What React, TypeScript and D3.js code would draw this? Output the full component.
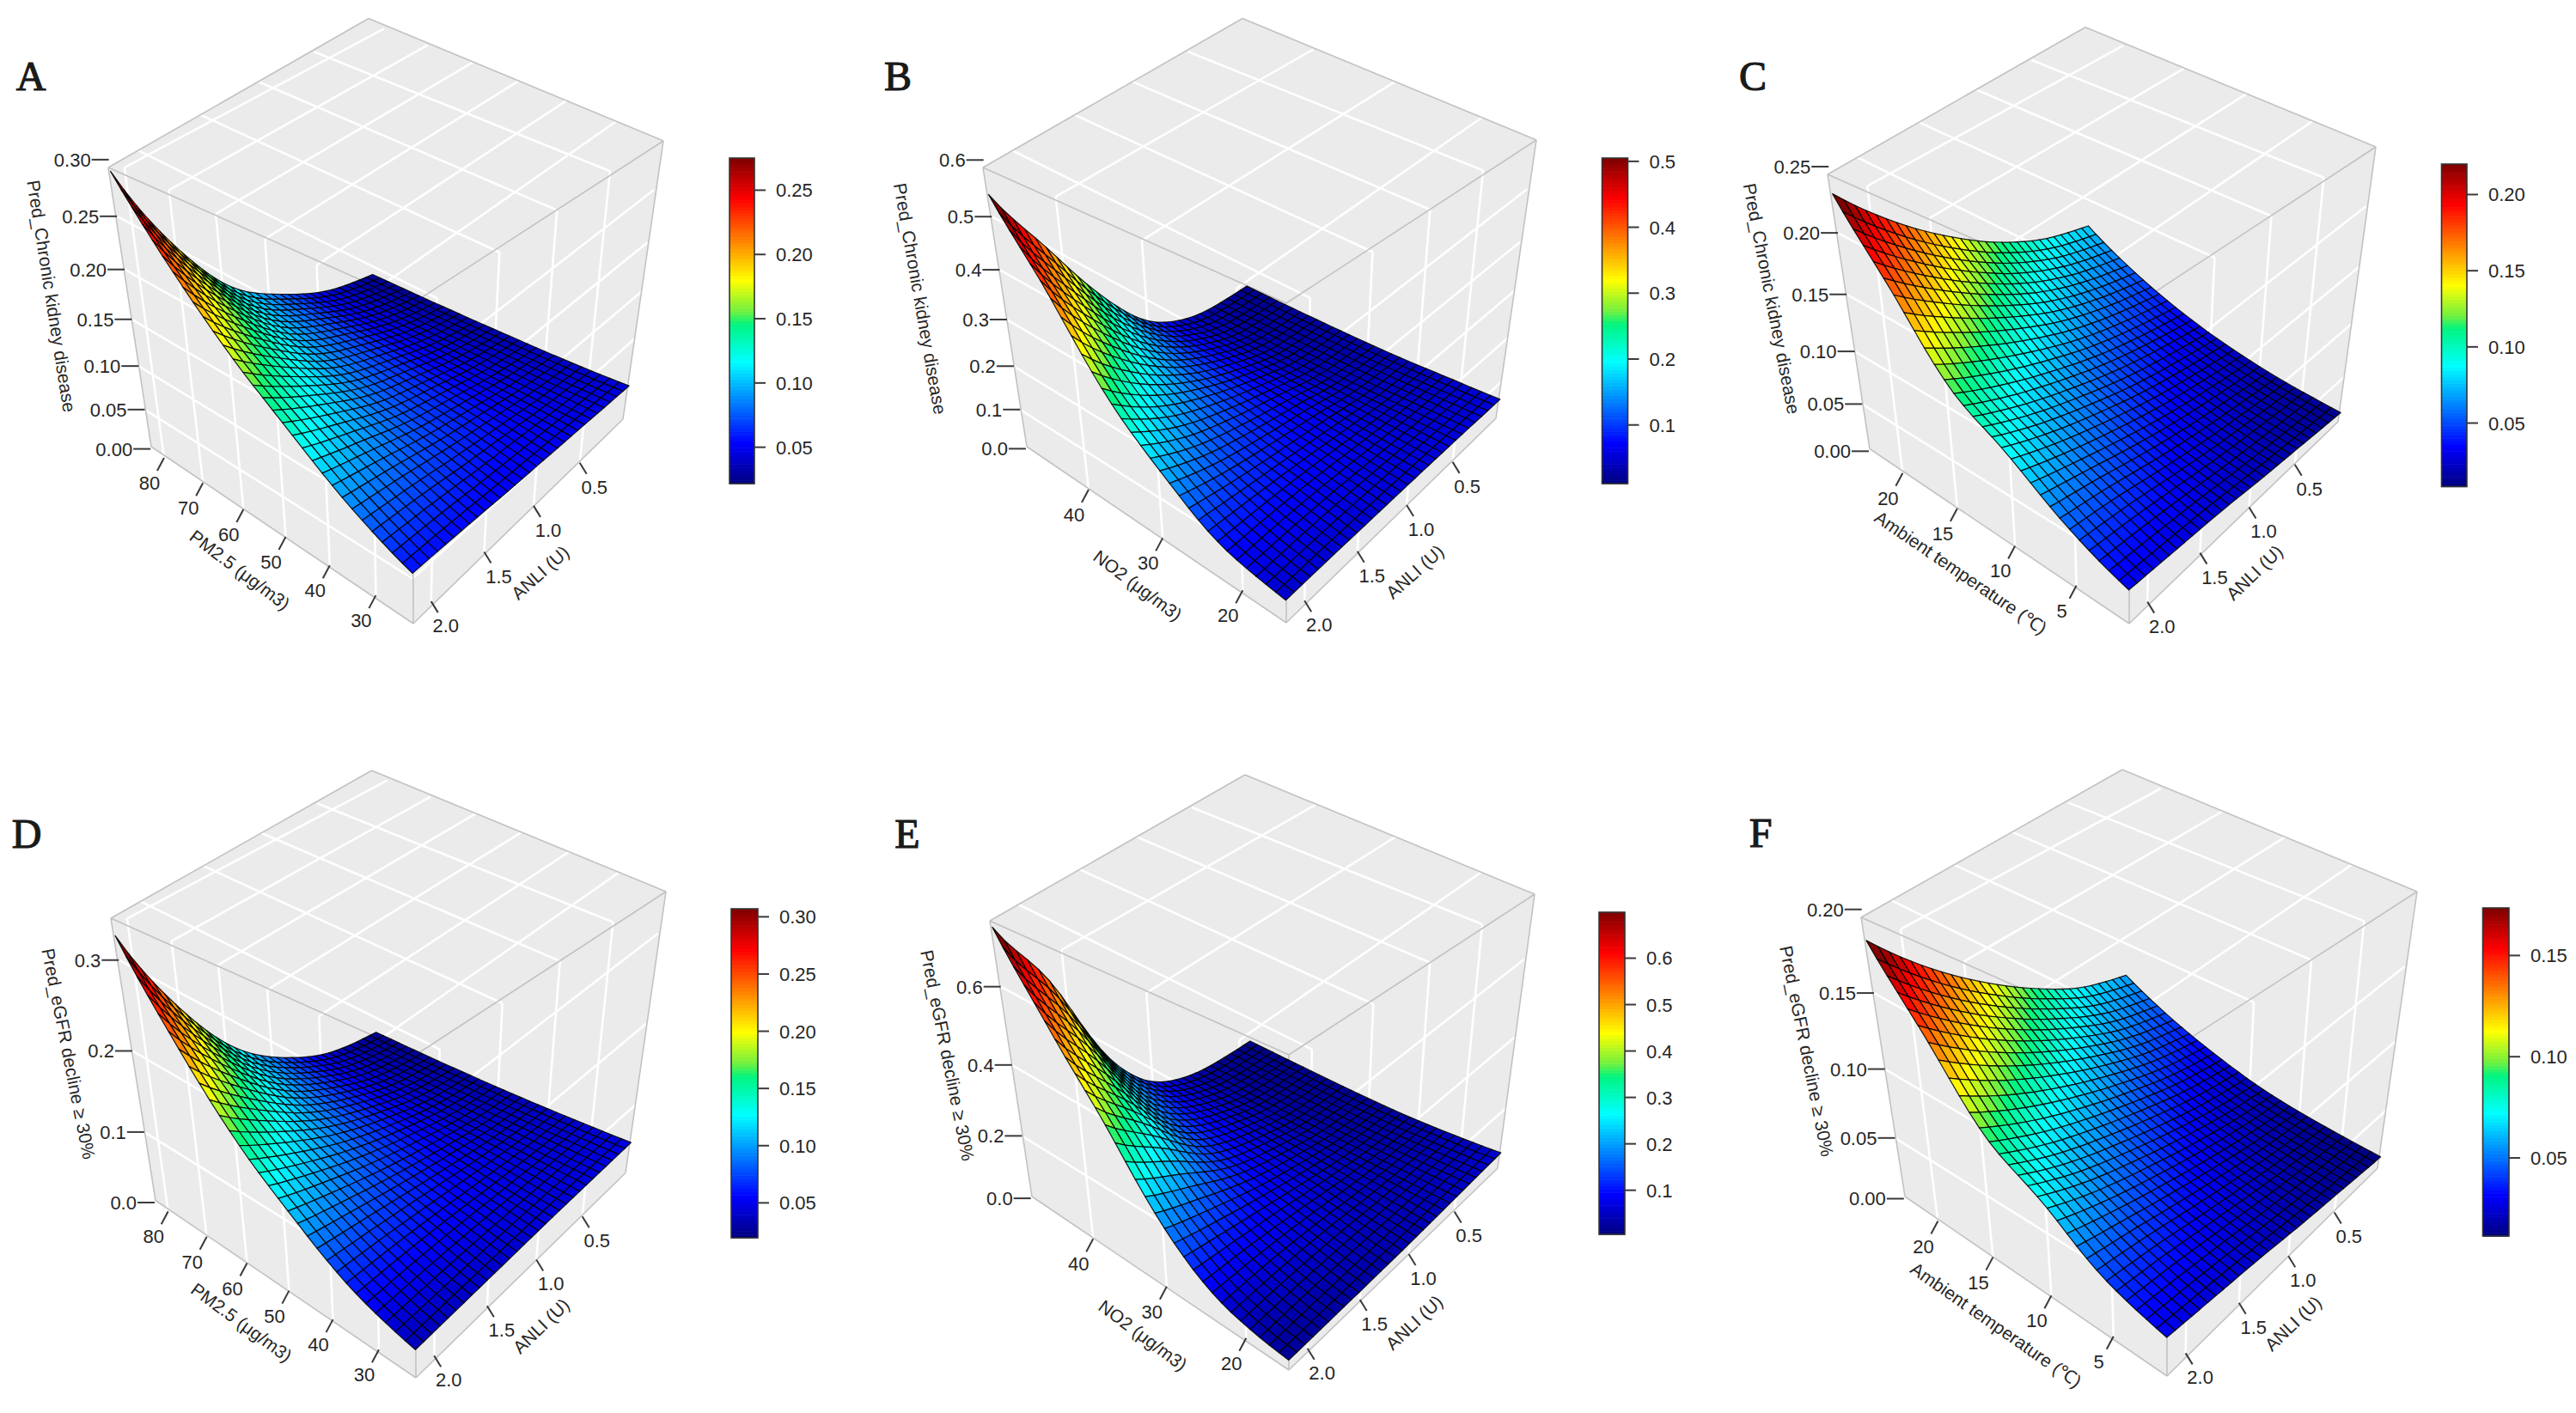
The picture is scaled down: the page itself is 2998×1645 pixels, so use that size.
import React from "react";
import * as d3 from "d3";

// ---------- values (edge positions and cell colours) ----------
// rows: x axis fraction 0, .2, .4, .6, .8, 1 (low end -> high end); columns: same fractions of ANLI (low end -> high end)
const surfaceA = [
  [0.045, 0.047, 0.049, 0.051, 0.054, 0.056],
  [0.039, 0.0456, 0.055, 0.0645, 0.076, 0.086],
  [0.035, 0.0446, 0.0593, 0.075, 0.0994, 0.127],
  [0.0314, 0.0436, 0.0636, 0.0867, 0.1244, 0.171],
  [0.0284, 0.0428, 0.068, 0.099, 0.1529, 0.225],
  [0.026, 0.042, 0.072, 0.112, 0.185, 0.29],
];
const surfaceB = [
  [0.055, 0.055, 0.054, 0.052, 0.05, 0.047],
  [0.044, 0.0482, 0.0575, 0.068, 0.074, 0.075],
  [0.0334, 0.0408, 0.0641, 0.085, 0.11, 0.15],
  [0.0272, 0.0361, 0.0683, 0.11, 0.165, 0.25],
  [0.0229, 0.0325, 0.072, 0.14, 0.25, 0.4],
  [0.02, 0.03, 0.075, 0.19, 0.36, 0.54],
];
const surfaceC = [
  [0.012, 0.016, 0.02, 0.025, 0.028, 0.031],
  [0.015, 0.0208, 0.0274, 0.0362, 0.0463, 0.054],
  [0.022, 0.0297, 0.0393, 0.0523, 0.0677, 0.087],
  [0.034, 0.0435, 0.0558, 0.0724, 0.092, 0.116],
  [0.052, 0.0643, 0.0818, 0.1066, 0.137, 0.173],
  [0.077, 0.091, 0.114, 0.145, 0.183, 0.23],
];
const surfaceD = [
  [0.048, 0.046, 0.044, 0.041, 0.038, 0.035],
  [0.0409, 0.044, 0.049, 0.0546, 0.0585, 0.06],
  [0.0349, 0.0421, 0.0545, 0.069, 0.0861, 0.105],
  [0.0303, 0.0405, 0.0598, 0.0848, 0.119, 0.16],
  [0.0267, 0.0392, 0.0651, 0.102, 0.16, 0.235],
  [0.024, 0.038, 0.07, 0.12, 0.205, 0.325],
];
const surfaceE = [
  [0.06, 0.05, 0.04, 0.032, 0.026, 0.02],
  [0.039, 0.0407, 0.0468, 0.0568, 0.06, 0.055],
  [0.0246, 0.0326, 0.0554, 0.085, 0.12, 0.16],
  [0.0182, 0.0282, 0.0619, 0.115, 0.23, 0.35],
  [0.015, 0.0257, 0.0665, 0.15, 0.34, 0.54],
  [0.013, 0.024, 0.07, 0.21, 0.5, 0.74],
];
const surfaceF = [
  [0.012, 0.015, 0.018, 0.022, 0.025, 0.028],
  [0.014, 0.018, 0.0236, 0.03, 0.0369, 0.042],
  [0.018, 0.0236, 0.0317, 0.0417, 0.0533, 0.069],
  [0.027, 0.0341, 0.0449, 0.0577, 0.0727, 0.092],
  [0.04, 0.0498, 0.0654, 0.0846, 0.108, 0.137],
  [0.058, 0.07, 0.09, 0.115, 0.145, 0.182],
];

const pmTicks = [30, 40, 50, 60, 70, 80];
const no2Ticks = [20, 30, 40];
const tempTicks = [5, 10, 15, 20];
const anliTicks = [0.5, 1.0, 1.5, 2.0];
const pmRange = [22.4, 83.6];
const no2Range = [14.95, 49.1];
const tempRange = [0.97, 23.25];
const anliRange = [-0.02, 2.17];

const zTicksA = [0, 0.05, 0.1, 0.15, 0.2, 0.25, 0.3];
const zTicksB = [0, 0.1, 0.2, 0.3, 0.4, 0.5, 0.6];
const zTicksC = [0, 0.05, 0.1, 0.15, 0.2, 0.25];
const zTicksD = [0, 0.1, 0.2, 0.3];
const zTicksE = [0, 0.2, 0.4, 0.6];
const zTicksF = [0, 0.05, 0.1, 0.15, 0.2];

const legendTicksA = [0.05, 0.1, 0.15, 0.2, 0.25];
const legendTicksB = [0.1, 0.2, 0.3, 0.4, 0.5];
const legendTicksC = [0.05, 0.1, 0.15, 0.2];
const legendTicksD = [0.05, 0.1, 0.15, 0.2, 0.25, 0.3];
const legendTicksE = [0.1, 0.2, 0.3, 0.4, 0.5, 0.6];
const legendTicksF = [0.05, 0.1, 0.15];

const JET_STOPS = [0, 0.125, 0.25, 0.375, 0.49, 0.53, 0.625, 0.75, 0.875, 1];
const JET_COLORS = ["#00007F", "#0000FF", "#007FFF", "#00FFFF", "#00F580", "#70F040", "#FFFF00", "#FF7F00", "#FF0000", "#7F0000"];
const jet = d3.scaleLinear<string>().domain(JET_STOPS).range(JET_COLORS).interpolate(d3.interpolateRgb).clamp(true);

const MESH_CELLS = 30;
const LEGEND_STEPS = 100;

type Pt = [number, number];
type Panel = {
  letter: string; letterAt: Pt; surface: number[][];
  xRange: number[]; xTicks: number[]; zTop: number; zTicks: number[]; zFormat: string;
  zTitle: string; xTitle: string;
  corners: Record<string, Pt>;
  zTitleAt: [number, number, number]; xTitleAt: [number, number, number]; uTitleAt: [number, number, number];
  legendBox: [number, number, number, number]; legendRange: [number, number]; legendTicks: number[]; legendFormat: string;
};

const CKD = "Pred_Chronic kidney disease";
const EGFR = "Pred_eGFR decline ≥ 30%";
const PM = "PM2.5 (μg/m3)";
const NO2 = "NO2 (μg/m3)";
const TEMP = "Ambient temperature (℃)";

const panels: Panel[] = [
  { letter: "A", letterAt: [36, 88], surface: surfaceA, xRange: pmRange, xTicks: pmTicks, zTop: 0.3, zTicks: zTicksA, zFormat: ".2f", zTitle: CKD, xTitle: PM,
    corners: { TL: [126, 195], TB: [429, 21.5], TR: [772, 164], C: [480.5, 353], L: [176, 520], B: [481, 726], R: [725, 488] },
    zTitleAt: [58, 345, 81], xTitleAt: [278, 665, 37], uTitleAt: [630, 668, -42],
    legendBox: [849, 184, 29, 379], legendRange: [0.0217, 0.275], legendTicks: legendTicksA, legendFormat: ".2f" },
  { letter: "B", letterAt: [1045, 88], surface: surfaceB, xRange: no2Range, xTicks: no2Ticks, zTop: 0.6, zTicks: zTicksB, zFormat: ".1f", zTitle: CKD, xTitle: NO2,
    corners: { TL: [1144, 195], TB: [1446, 21.5], TR: [1788, 163], C: [1497, 353], L: [1195, 520], B: [1497, 725], R: [1741, 487] },
    zTitleAt: [1069, 348, 80], xTitleAt: [1323, 683, 36.7], uTitleAt: [1648, 667, -42],
    legendBox: [1864.5, 184, 30, 379], legendRange: [0.011, 0.505], legendTicks: legendTicksB, legendFormat: ".1f" },
  { letter: "C", letterAt: [2040, 88], surface: surfaceC, xRange: tempRange, xTicks: tempTicks, zTop: 0.25, zTicks: zTicksC, zFormat: ".2f", zTitle: CKD, xTitle: TEMP,
    corners: { TL: [2127, 203], TB: [2427, 31.7], TR: [2765, 171], C: [2479, 359], L: [2176, 522.5], B: [2478, 726], R: [2721, 491] },
    zTitleAt: [2060, 348, 79], xTitleAt: [2281, 668, 34.3], uTitleAt: [2625, 668, -44],
    legendBox: [2841.5, 191, 29.5, 375.5], legendRange: [0.0083, 0.22], legendTicks: legendTicksC, legendFormat: ".2f" },
  { letter: "D", letterAt: [31, 970], surface: surfaceD, xRange: pmRange, xTicks: pmTicks, zTop: 0.35, zTicks: zTicksD, zFormat: ".1f", zTitle: EGFR, xTitle: PM,
    corners: { TL: [129, 1069], TB: [432.6, 897], TR: [775, 1038], C: [484, 1228], L: [181, 1397.5], B: [484, 1604], R: [728, 1365.5] },
    zTitleAt: [78, 1227, 78.8], xTitleAt: [280, 1541, 36.3], uTitleAt: [631, 1545, -44],
    legendBox: [851, 1058, 31, 383], legendRange: [0.0195, 0.307], legendTicks: legendTicksD, legendFormat: ".2f" },
  { letter: "E", letterAt: [1056, 970], surface: surfaceE, xRange: no2Range, xTicks: no2Ticks, zTop: 0.77, zTicks: zTicksE, zFormat: ".1f", zTitle: EGFR, xTitle: NO2,
    corners: { TL: [1152, 1072], TB: [1449, 902], TR: [1786, 1041], C: [1500, 1228], L: [1201, 1393], B: [1500, 1595], R: [1743, 1360] },
    zTitleAt: [1101, 1229, 78.7], xTitleAt: [1329, 1556, 36.7], uTitleAt: [1647, 1541, -43],
    legendBox: [1861, 1062, 30, 375], legendRange: [0.005, 0.699], legendTicks: legendTicksE, legendFormat: ".1f" },
  { letter: "F", letterAt: [2049, 969], surface: surfaceF, xRange: tempRange, xTicks: tempTicks, zTop: 0.2, zTicks: zTicksF, zFormat: ".2f", zTitle: EGFR, xTitle: TEMP,
    corners: { TL: [2166, 1068], TB: [2470, 896], TR: [2813, 1038], C: [2522, 1226], L: [2217, 1393], B: [2522, 1602], R: [2767, 1360] },
    zTitleAt: [2101, 1224, 78.7], xTitleAt: [2322, 1544, 35], uTitleAt: [2670, 1542, -43.5],
    legendBox: [2889.5, 1057, 30.5, 382], legendRange: [0.0114, 0.1735], legendTicks: legendTicksF, legendFormat: ".2f" },
];

// ---------- camera: least-squares projective fit of the box corners ----------
const UNIT: Record<string, [number, number, number]> = {
  B: [0, 1, 0], L: [1, 1, 0], R: [0, 0, 0], TL: [1, 1, 1], C: [0, 1, 1], TR: [0, 0, 1], TB: [1, 0, 1],
};

function solve(A: number[][], y: number[]): number[] {
  const n = y.length;
  const M = A.map((r, i) => [...r, y[i]]);
  for (let c = 0; c < n; c++) {
    let p = c;
    for (let r = c + 1; r < n; r++) if (Math.abs(M[r][c]) > Math.abs(M[p][c])) p = r;
    [M[c], M[p]] = [M[p], M[c]];
    for (let r = 0; r < n; r++) {
      if (r === c) continue;
      const f = M[r][c] / M[c][c];
      for (let k = c; k <= n; k++) M[r][k] -= f * M[c][k];
    }
  }
  return M.map((r, i) => r[n] / r[i]);
}

function makeCamera(corners: Record<string, Pt>) {
  const ox = corners.R[0], oy = corners.R[1], s = 500;
  const rows: number[][] = [];
  const rhs: number[] = [];
  Object.keys(UNIT).forEach((k) => {
    const [X, Y, Z] = UNIT[k];
    const u = (corners[k][0] - ox) / s, v = (corners[k][1] - oy) / s;
    rows.push([X, Y, Z, 1, 0, 0, 0, 0, -u * X, -u * Y, -u * Z]); rhs.push(u);
    rows.push([0, 0, 0, 0, X, Y, Z, 1, -v * X, -v * Y, -v * Z]); rhs.push(v);
  });
  const N = 11;
  const AtA = d3.range(N).map((i) => d3.range(N).map((j) => d3.sum(rows, (r) => r[i] * r[j])));
  const Atb = d3.range(N).map((i) => d3.sum(rows, (r, q) => r[i] * rhs[q]));
  const p = solve(AtA, Atb);
  return (X: number, Y: number, Z: number): Pt => {
    const w = p[8] * X + p[9] * Y + p[10] * Z + 1;
    return [ox + (s * (p[0] * X + p[1] * Y + p[2] * Z + p[3])) / w, oy + (s * (p[4] * X + p[5] * Y + p[6] * Z + p[7])) / w];
  };
}

// NOTE: the 31x31 mesh nodes are NOT individually read values: they are a Catmull-Rom spline
// (on log z) through the 6x6 estimated tables above.
function spline(vals: number[], t: number): number {
  const n = vals.length - 1;
  const f = Math.min(t * n, n - 1e-9);
  const i = Math.floor(f);
  const u = f - i;
  const p1 = vals[i], p2 = vals[i + 1];
  const p0 = i > 0 ? vals[i - 1] : 2 * p1 - p2;
  const p3 = i + 2 <= n ? vals[i + 2] : 2 * p2 - p1;
  return 0.5 * (2 * p1 + (p2 - p0) * u + (2 * p0 - 5 * p1 + 4 * p2 - p3) * u * u + (3 * p1 - p0 - 3 * p2 + p3) * u * u * u);
}
function sampleSurface(grid: number[][], a: number, b: number): number {
  const col = grid.map((row) => spline(row.map(Math.log), b));
  return Math.exp(spline(col, a));
}

const poly = (pts: Pt[]) => pts.map((p) => p[0].toFixed(1) + "," + p[1].toFixed(1)).join(" ");
const FONT = "'Liberation Sans', Arial, sans-serif";
const TEXT = "#262626";
const TICK = "#3a3a3a";
const TICK_FONT = 22;

function PanelView({ d }: { d: Panel }) {
  const cam = makeCamera(d.corners);
  const sx = d3.scaleLinear().domain(d.xRange).range([0, 1]);
  const su = d3.scaleLinear().domain(anliRange).range([0, 1]);
  // exponent tuned by eye: corrects a small perspective mismatch of the fitted camera along z
  const sz = d3.scalePow().exponent(1.04).domain([0, d.zTop]).range([0, 1]);
  const colorT = d3.scaleLinear().domain(d.legendRange).range([0, 1]).clamp(true);
  const line = (a: Pt, b: Pt, key: string, stroke: string, w: number) => (
    <line key={key} x1={a[0]} y1={a[1]} x2={b[0]} y2={b[1]} stroke={stroke} strokeWidth={w} />
  );

  const c = d.corners;
  const faces: Pt[][] = [[c.TL, c.TB, c.TR, c.C], [c.TL, c.C, c.B, c.L], [c.C, c.TR, c.R, c.B]];
  const white: JSX.Element[] = [];
  d.xTicks.forEach((v) => {
    const a = sx(v);
    white.push(line(cam(a, 0, 1), cam(a, 1, 1), "xt" + v, "#fff", 2.6));
    white.push(line(cam(a, 1, 1), cam(a, 1, 0), "xs" + v, "#fff", 2.6));
  });
  anliTicks.forEach((v) => {
    const b = su(v);
    white.push(line(cam(0, b, 1), cam(1, b, 1), "ut" + v, "#fff", 2.6));
    white.push(line(cam(0, b, 1), cam(0, b, 0), "us" + v, "#fff", 2.6));
  });
  d.zTicks.forEach((v) => {
    const z = sz(v);
    if (v === 0 || z >= 0.999) return;
    white.push(line(cam(1, 1, z), cam(0, 1, z), "zl" + v, "#fff", 2.6));
    white.push(line(cam(0, 1, z), cam(0, 0, z), "zr" + v, "#fff", 2.6));
  });

  const edges: [Pt, Pt][] = [[c.TL, c.TB], [c.TB, c.TR], [c.TR, c.R], [c.R, c.B], [c.B, c.L], [c.L, c.TL], [c.TL, c.C], [c.TR, c.C], [c.C, c.B]];

  const fr = d3.range(MESH_CELLS + 1).map((i) => i / MESH_CELLS);
  const nodes = fr.map((a) => fr.map((b) => sampleSurface(d.surface, a, b)));
  const cells: JSX.Element[] = [];
  // far corner (high x, low ANLI) first, near corner last
  for (let i = MESH_CELLS - 1; i >= 0; i--) {
    for (let j = 0; j < MESH_CELLS; j++) {
      const q = [[i, j], [i + 1, j], [i + 1, j + 1], [i, j + 1]];
      const zs = q.map(([m, n]) => nodes[m][n]);
      const pts = q.map(([m, n]) => cam(fr[m], fr[n], sz(nodes[m][n])));
      cells.push(<polygon key={i + "-" + j} points={poly(pts)} fill={jet(colorT(d3.mean(zs) as number))} stroke="#000" strokeOpacity={0.88} strokeWidth={1.25} strokeLinejoin="round" />);
    }
  }

  const [lx, ly, lw, lh] = d.legendBox;
  const ly2 = d3.scaleLinear().domain(d.legendRange).range([ly + lh, ly]);
  const stepH = lh / LEGEND_STEPS;
  const zf = d3.format(d.zFormat);
  const lf = d3.format(d.legendFormat);
  const common = { fontFamily: FONT, fill: TEXT };

  return (
    <g>
      <text x={d.letterAt[0]} y={d.letterAt[1] + 17} textAnchor="middle" fontFamily="'Liberation Serif', serif" fontSize={48} fill="#1a1a1a" stroke="#1a1a1a" strokeWidth={1.2}>{d.letter}</text>
      {faces.map((f, i) => <polygon key={"f" + i} points={poly(f)} fill="#EBEBEB" />)}
      {white}
      {edges.map((e, i) => line(e[0], e[1], "e" + i, "#C2C2C2", 1.6))}
      {d.zTicks.map((v) => {
        const p = cam(1, 1, sz(v));
        return (
          <g key={"zt" + v}>
            <line x1={p[0] - 20} y1={p[1]} x2={p[0]} y2={p[1]} stroke={TICK} strokeWidth={2} />
            <text x={p[0] - 21} y={p[1] + 8} textAnchor="end" fontSize={TICK_FONT} {...common}>{zf(v)}</text>
          </g>
        );
      })}
      {d.xTicks.map((v) => {
        const p = cam(sx(v), 1, 0);
        return (
          <g key={"xl" + v}>
            <line x1={p[0]} y1={p[1]} x2={p[0] - 8} y2={p[1] + 15} stroke={TICK} strokeWidth={2} />
            <text x={p[0] - 17} y={p[1] + 37} textAnchor="middle" fontSize={TICK_FONT} {...common}>{v}</text>
          </g>
        );
      })}
      {anliTicks.map((v) => {
        const p = cam(0, su(v), 0);
        return (
          <g key={"ul" + v}>
            <line x1={p[0]} y1={p[1]} x2={p[0] + 8} y2={p[1] + 13} stroke={TICK} strokeWidth={2} />
            <text x={p[0] + 17} y={p[1] + 36} textAnchor="middle" fontSize={TICK_FONT} {...common}>{v.toFixed(1)}</text>
          </g>
        );
      })}
      {[[d.zTitle, d.zTitleAt], [d.xTitle, d.xTitleAt], ["ANLI (U)", d.uTitleAt]].map(([t, at]: any) => (
        <text key={t} transform={`translate(${at[0]},${at[1]}) rotate(${at[2]})`} textAnchor="middle" dominantBaseline="middle" fontSize={21} {...common}>{t}</text>
      ))}
      {cells}
      {d3.range(LEGEND_STEPS).map((i) => (
        <rect key={"lg" + i} x={lx} y={ly + lh - (i + 1) * stepH} width={lw} height={stepH + 0.6} fill={jet((i + 0.5) / LEGEND_STEPS)} />
      ))}
      <rect x={lx} y={ly} width={lw} height={lh} fill="none" stroke="#333" strokeWidth={1.6} />
      {d.legendTicks.map((v) => (
        <g key={"lt" + v}>
          <line x1={lx + lw} x2={lx + lw + 13} y1={ly2(v)} y2={ly2(v)} stroke={TICK} strokeWidth={2} />
          <text x={lx + lw + 25} y={ly2(v) + 8} fontSize={TICK_FONT} {...common}>{lf(v)}</text>
        </g>
      ))}
    </g>
  );
}

export default function App() {
  return (
    <svg width={2998} height={1645} viewBox="0 0 2998 1645" style={{ position: "absolute", left: 0, top: 0, background: "#fff" }}>
      {panels.map((d) => <PanelView key={d.letter} d={d} />)}
    </svg>
  );
}
